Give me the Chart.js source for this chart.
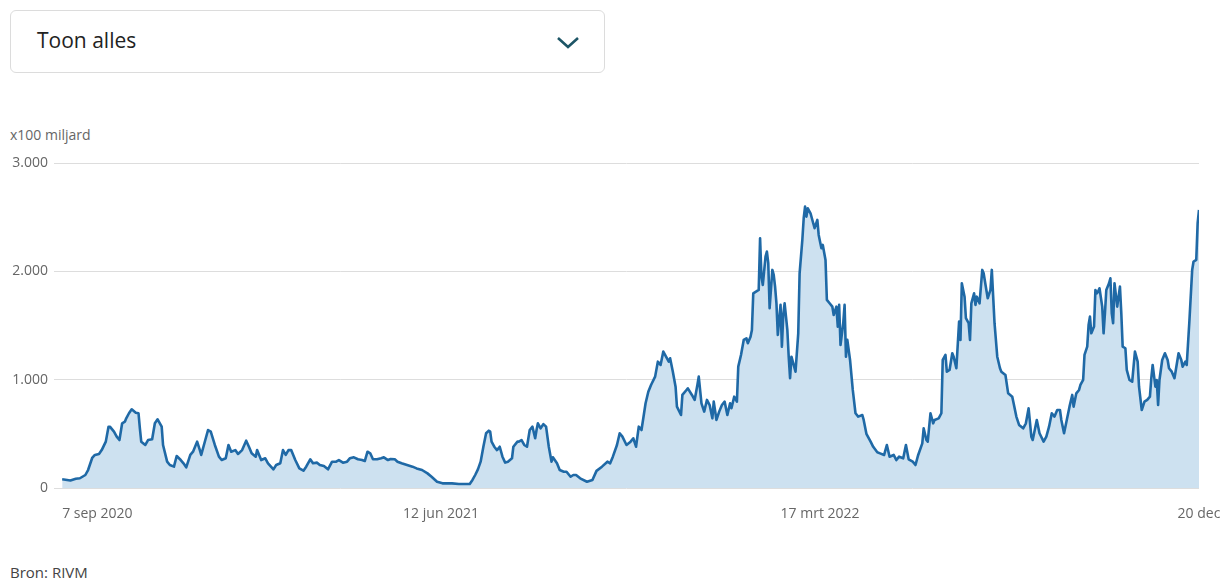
<!DOCTYPE html>
<html>
<head>
<meta charset="utf-8">
<script src="https://cdn.jsdelivr.net/npm/chart.js@4"></script>
<style>
  body { margin: 0; background: #fff; font-family: "Open Sans", sans-serif; }
  .wrap { position: relative; width: 1231px; height: 584px; }
  .select {
    position: absolute; left: 10px; top: 10px; width: 595px; height: 63px;
    border: 1px solid #dcdcdc; border-radius: 6px; box-sizing: border-box;
  }
  .select span { position: absolute; left: 26px; top: 15px; font-size: 21px; color: #222; }
  .select svg { position: absolute; left: 545px; top: 24px; }
  .unit { position: absolute; left: 10px; top: 125px; font-size: 14px; color: #666; }
  .bron { position: absolute; left: 10px; top: 562px; font-size: 15px; color: #444; }
  #chart { position: absolute; left: 0; top: 140px; }
</style>
</head>
<body>
<div class="wrap">
  <div class="select">
    <span>Toon alles</span>
    <svg width="24" height="16" viewBox="0 0 24 16"><polyline points="2,3 12,12 22,3" fill="none" stroke="#1d5566" stroke-width="2.6"/></svg>
  </div>
  <div class="unit">x100 miljard</div>
  <canvas id="chart" width="1231" height="400"></canvas>
  <div class="bron">Bron: RIVM</div>
</div>
<script>
// dagen sinds 7 sep 2020
const days = [
  0, 6, 10, 13, 17, 19, 22, 24, 27, 29, 32, 34, 35, 38, 40, 42, 44, 46, 47, 49, 51, 54, 56, 57, 58, 61, 63, 66, 68, 70,
  73, 74, 77, 79, 82, 84, 87, 89, 91, 94, 96, 99, 101, 102, 105, 107, 109, 112, 115, 117, 120, 122, 124, 127, 129, 132, 135, 137, 139, 142,
  143, 146, 149, 151, 155, 157, 160, 162, 164, 166, 168, 171, 174, 177, 179, 182, 184, 187, 189, 192, 195, 198, 201, 203, 206, 209, 211, 214, 217, 220,
  222, 224, 226, 228, 231, 234, 236, 239, 241, 244, 246, 249, 253, 257, 260, 264, 268, 271, 275, 279, 282,
  286, 291, 296, 299, 301, 303, 305, 307, 309, 311, 313, 314, 315, 317, 319, 321, 323, 325, 327, 330, 331, 334, 335, 337, 339, 341, 343, 345, 347, 348,
  349, 351, 353, 355, 357, 359, 360, 363, 365, 368, 370, 373, 375, 377, 380,
  385, 389, 392, 396, 400, 402, 404, 407, 409, 411, 414, 417, 419, 421, 423, 425, 428, 430, 432, 435, 437, 439, 441, 443, 445, 446, 448, 450, 451, 454,
  455, 458, 459, 462, 464, 466, 467, 469, 471, 473, 475, 477, 478, 480, 482, 484, 486, 488, 490, 491, 493, 495, 496, 498, 500, 502, 503, 505,
  506, 507, 509, 511, 512, 513, 514, 516, 517, 518, 519, 521, 522, 523, 524, 525, 527, 528, 529, 530, 532, 533, 534, 535, 537, 538, 540, 541, 543, 544,
  545, 546, 547, 549, 551, 552, 554, 555, 556, 557, 558, 560, 561, 563, 565, 566, 568, 569, 570, 571, 573, 574, 575, 576, 578, 580, 582, 584, 587,
  588, 590, 593, 595, 598, 600, 603, 605, 607, 610, 612, 614, 617, 619, 621, 624, 626, 628, 631, 632, 634, 635, 637, 639, 640, 643, 645, 646, 648, 649,
  651, 653, 654, 656, 658, 659, 660, 662, 663, 665, 666, 667, 669, 670, 671, 673, 675, 676, 678, 679, 681, 682, 683, 684, 686, 688, 689, 692, 694, 697,
  698, 700, 702, 705, 707, 709, 711,
  712, 714, 715, 717, 720, 722, 724, 726, 728, 730, 732, 733, 735, 737, 739, 741, 742, 744, 746, 747, 749, 750, 752, 753, 754, 755, 757, 758, 759, 760,
  761, 763, 764, 765, 766, 768, 769, 770, 771, 772, 774, 776, 777, 778, 780, 781, 783, 785, 787, 789, 790, 792, 794, 796, 798, 799, 800, 802, 803, 804,
  805, 807, 809, 811, 812, 814, 816, 817, 819, 821, 822, 824, 825, 827, 829, 830, 832, 833, 834
];

// x100 miljard virusdeeltjes per 100.000 inwoners
const values = [
  80, 70, 86, 90, 120, 166, 277, 305, 314, 350, 428, 566, 566, 520, 474, 443, 597, 612, 643, 690, 726, 695, 690, 551, 428, 397, 443, 450, 597, 634,
  566, 397, 243, 212, 197, 295, 258, 228, 191, 305, 335, 428, 350, 305, 443, 535, 520, 397, 289, 258, 274, 397, 335, 350, 314, 350, 437, 381, 320, 289,
  350, 258, 274, 228, 172, 212, 228, 350, 305, 350, 350, 258, 181, 160, 197, 265, 228, 234, 212, 203, 172, 243, 243, 258, 234, 243, 274, 283, 265, 258,
  249, 335, 320, 265, 265, 274, 283, 258, 268, 265, 243, 228, 212, 197, 181, 166, 135, 104, 58, 43, 43,
  43, 37, 37, 37, 74, 120, 172, 243, 381, 505, 529, 520, 428, 381, 350, 381, 289, 234, 243, 274, 381, 428, 428, 443, 397, 381, 535, 566, 459, 535,
  597, 551, 590, 566, 381, 243, 283, 228, 166, 150, 150, 104, 120, 120, 89,
  58, 74, 158, 197, 243, 228, 289, 397, 505, 474, 397, 428, 459, 381, 566, 535, 782, 889, 951, 1028, 1166, 1136, 1259, 1212, 1166, 1197, 1074, 935, 751, 674,
  859, 905, 920, 859, 813, 951, 1028, 782, 705, 813, 766, 643, 797, 628, 705, 766, 797, 674, 782, 736, 843, 797, 1120, 1228, 1367, 1382, 1336, 1397,
  1459, 1797, 1813, 1828, 2305, 1951, 1874, 2136, 2182, 2075, 1659, 2013, 1967, 1859, 1705, 1413, 1690, 1305, 1597, 1705, 1459, 1212, 1013, 1212, 1120, 1074, 1428, 1982, 2290, 2490,
  2597, 2505, 2582, 2536, 2444, 2398, 2475, 2336, 2274, 2213, 2244, 2105, 1736, 1705, 1674, 1597, 1674, 1490, 1690, 1320, 1521, 1690, 1212, 1367, 1182, 905, 690, 659, 674,
  628, 500, 430, 380, 330, 320, 305, 397, 289, 305, 258, 289, 274, 397, 265, 243, 212, 305, 412, 551, 443, 428, 690, 597, 628, 643, 690, 1182, 1228, 1074,
  1090, 1244, 1212, 1105, 1536, 1367, 1890, 1766, 1567, 1521, 1367, 1705, 1797, 1690, 1766, 1705, 2013, 1982, 1828, 1751, 1828, 2013, 1766, 1521, 1212, 1105, 1074, 1043, 874, 843,
  782, 659, 582, 551, 597, 736, 474,
  443, 566, 628, 505, 428, 474, 566, 690, 659, 720, 720, 628, 505, 628, 751, 859, 751, 874, 905, 951, 997, 1228, 1305, 1505, 1582, 1428, 1490, 1828, 1797, 1813,
  1844, 1674, 1428, 1613, 1828, 1890, 1936, 1613, 1521, 1890, 1674, 1859, 1613, 1305, 1290, 1090, 997, 981, 1259, 1166, 935, 720, 797, 813, 843, 1013, 1136, 935, 997, 766,
  997, 1182, 1244, 1182, 1105, 1074, 1013, 1090, 1244, 1182, 1120, 1166, 1136, 1551, 2013, 2090, 2105, 2444, 2567
];

const tickDays = [0, 278, 556, 834];
const tickLabels = ['7 sep 2020', '12 jun 2021', '17 mrt 2022', '20 dec'];
const yTicks = [0, 1000, 2000, 3000];

const points = days.map((d, i) => ({ x: d, y: values[i] }));

function fmt(v) {
  return String(v).replace(/\B(?=(\d{3})+(?!\d))/g, '.');
}

const xLabels = {
  id: 'xLabels',
  afterDraw(chart) {
    const { ctx, chartArea } = chart;
    const x = chart.scales.x;
    ctx.save();
    ctx.font = '14px "Open Sans"';
    ctx.fillStyle = '#666';
    ctx.textBaseline = 'middle';
    tickDays.forEach((d, i) => {
      ctx.textAlign = i === 0 ? 'left' : 'center';
      ctx.fillText(tickLabels[i], x.getPixelForValue(d), chartArea.bottom + 26);
    });
    ctx.restore();
  }
};

new Chart(document.getElementById('chart'), {
  type: 'line',
  data: {
    datasets: [{
      data: points,
      borderColor: '#1f69a6',
      backgroundColor: '#cde1f0',
      borderWidth: 2.6,
      borderJoinStyle: 'round',
      pointRadius: 0,
      fill: 'origin',
      tension: 0
    }]
  },
  options: {
    responsive: false,
    animation: false,
    devicePixelRatio: 1,
    layout: { padding: { top: 23, right: 32, bottom: 52, left: 0 } },
    plugins: { legend: { display: false }, tooltip: { enabled: false } },
    scales: {
      x: {
        type: 'linear',
        min: -6,
        max: 834,
        grid: { display: false },
        border: { display: false },
        ticks: { display: false },
        afterFit(scale) { scale.height = 0; }
      },
      y: {
        min: 0,
        max: 3000,
        afterBuildTicks(scale) { scale.ticks = yTicks.map(v => ({ value: v })); },
        grid: { color: '#dddddd', drawTicks: false },
        border: { display: false },
        ticks: {
          padding: 6,
          color: '#666',
          font: { size: 14, family: '"Open Sans"' },
          callback: v => fmt(v)
        },
        afterFit(scale) { scale.width = 54; }
      }
    }
  },
  plugins: [xLabels]
});
</script>
</body>
</html>
